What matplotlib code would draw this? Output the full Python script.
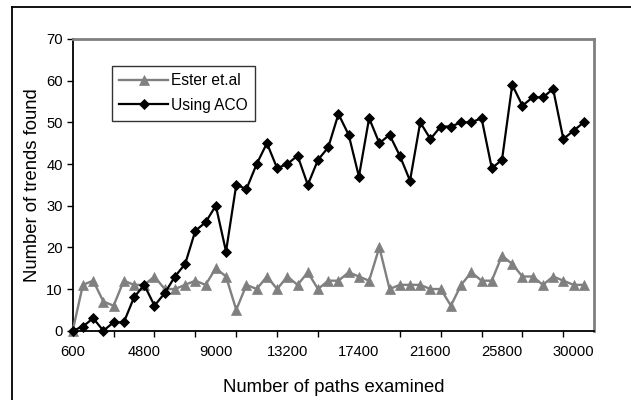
import matplotlib
matplotlib.use("Agg")
import matplotlib.pyplot as plt
from matplotlib.lines import Line2D
from matplotlib.ticker import FixedLocator, NullFormatter

plt.rcParams['font.family'] = ['Liberation Sans', 'DejaVu Sans']

# Data
paths = [600 * (i + 1) for i in range(51)]
ester = [0, 11, 12, 7, 6, 12, 11, 11, 13, 10, 10, 11, 12, 11, 15, 13, 5, 11, 10,
         13, 10, 13, 11, 14, 10, 12, 12, 14, 13, 12, 20, 10, 11, 11, 11, 10, 10,
         6, 11, 14, 12, 12, 18, 16, 13, 13, 11, 13, 12, 11, 11]
aco = [0, 1, 3, 0, 2, 2, 8, 11, 6, 9, 13, 16, 24, 26, 30, 19, 35, 34, 40,
       45, 39, 40, 42, 35, 41, 44, 52, 47, 37, 51, 45, 47, 42, 36, 50, 46, 49,
       49, 50, 50, 51, 39, 41, 59, 54, 56, 56, 58, 46, 48, 50]
xtick_labels = [600, 4800, 9000, 13200, 17400, 21600, 25800, 30000]
yticks = [0, 10, 20, 30, 40, 50, 60, 70]

W, H = 631, 400
fig = plt.figure(figsize=(W / 100, H / 100), dpi=100)
L, R, T, B = 72.7, 594, 39, 330.7
ax = fig.add_axes([L / W, (H - B) / H, (R - L) / W, (B - T) / H])

gray = '#808080'
ax.plot(paths, ester, color=gray, lw=1.7, marker='^', ms=7.5, mfc=gray, mec=gray,
        mew=0.5, label='Ester et.al', zorder=3, clip_on=False)
ax.plot(paths, aco, color='black', lw=1.6, marker='D', ms=5.5, mfc='black', mec='black',
        mew=0.6, label='Using ACO', zorder=4, clip_on=False)

ax.set_xlim(600, 31200)
ax.set_ylim(0, 70)
ax.set_yticks(yticks)
ax.set_yticklabels([str(v) for v in yticks])
ax.set_xticks(xtick_labels)
ax.set_xticklabels([str(v) for v in xtick_labels])
ax.xaxis.set_minor_locator(FixedLocator(list(range(600, 31201, 2400))))
ax.xaxis.set_minor_formatter(NullFormatter())
ax.tick_params(axis='x', which='major', length=0, pad=10, labelsize=10.6)
ax.tick_params(axis='x', which='minor', length=4.5, width=1, direction='out')
ax.tick_params(axis='y', which='major', length=4, width=1, direction='out', pad=3, labelsize=10.6)

for s in ['left', 'bottom']:
    ax.spines[s].set_color('black')
    ax.spines[s].set_linewidth(1.3)
for s in ['top', 'right']:
    ax.spines[s].set_color(gray)
    ax.spines[s].set_linewidth(2)

ax.set_xlabel('Number of paths examined', fontsize=13.3, labelpad=15)
ax.set_ylabel('Number of trends found', fontsize=13.3, labelpad=4)

leg = ax.legend(loc='upper left', bbox_to_anchor=((111.7 - L) / (R - L), (B - 65.7) / (B - T)),
                borderaxespad=0, fancybox=False, framealpha=1, edgecolor='#333333',
                fontsize=11.2, handlelength=3.1, handletextpad=0.2, labelspacing=0.6,
                borderpad=0.5, markerscale=1.0)
leg.get_frame().set_linewidth(1)

# outer chart border (left and top)
fig.add_artist(Line2D([11.7 / W, 11.7 / W], [0, 1 - 6.7 / H], transform=fig.transFigure,
                      color='black', lw=1.3))
fig.add_artist(Line2D([11.7 / W, 1], [1 - 6.7 / H, 1 - 6.7 / H], transform=fig.transFigure,
                      color='black', lw=1.3))

fig.savefig('out.png', dpi=100)
